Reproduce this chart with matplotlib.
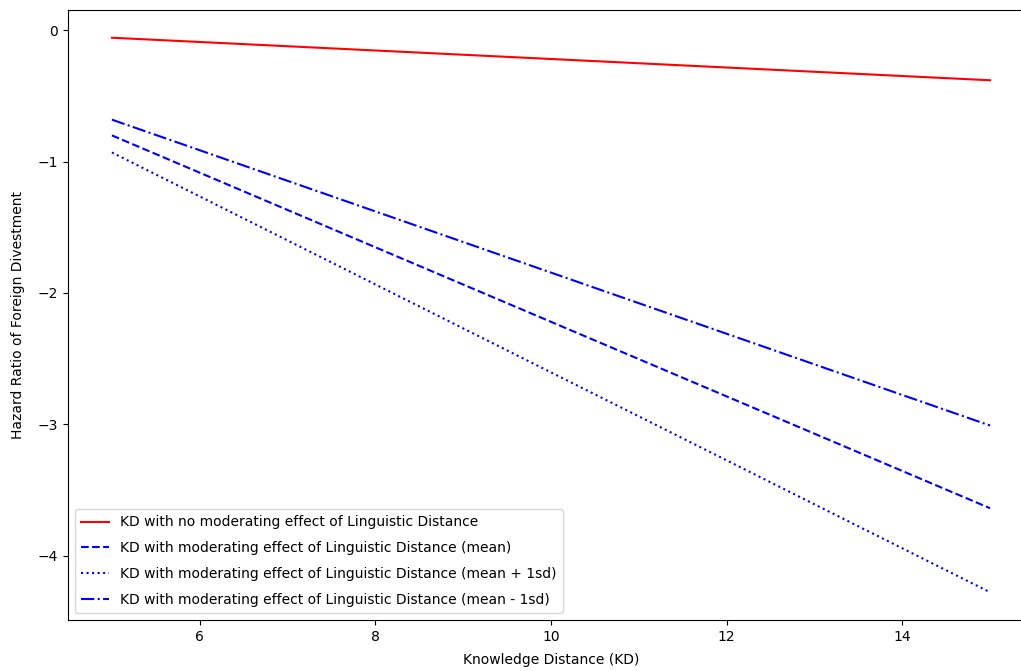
import matplotlib
matplotlib.use('Agg')
import matplotlib.pyplot as plt

kd = [5, 15]
no_mod = [-0.056, -0.38]
mod_mean = [-0.80, -3.64]
mod_plus = [-0.93, -4.28]
mod_minus = [-0.68, -3.01]

labels = ['KD with no moderating effect of Linguistic Distance',
          'KD with moderating effect of Linguistic Distance (mean)',
          'KD with moderating effect of Linguistic Distance (mean + 1sd)',
          'KD with moderating effect of Linguistic Distance (mean - 1sd)']

fig = plt.figure(figsize=(10.21, 6.71), dpi=100)
ax = fig.add_axes([68/1021, 51/671, (1034-68)/1021, 610/671])

ax.plot(kd, no_mod, 'r-', label=labels[0])
ax.plot(kd, mod_mean, 'b--', label=labels[1])
ax.plot(kd, mod_plus, 'b:', label=labels[2])
ax.plot(kd, mod_minus, 'b-.', label=labels[3])

ax.set_xlabel('Knowledge Distance (KD)', labelpad=7)
ax.set_ylabel('Hazard Ratio of Foreign Divestment', labelpad=9)
ax.legend(loc='lower left', labelspacing=0.85, borderpad=0.45)

fig.savefig('out.png', dpi=100)
